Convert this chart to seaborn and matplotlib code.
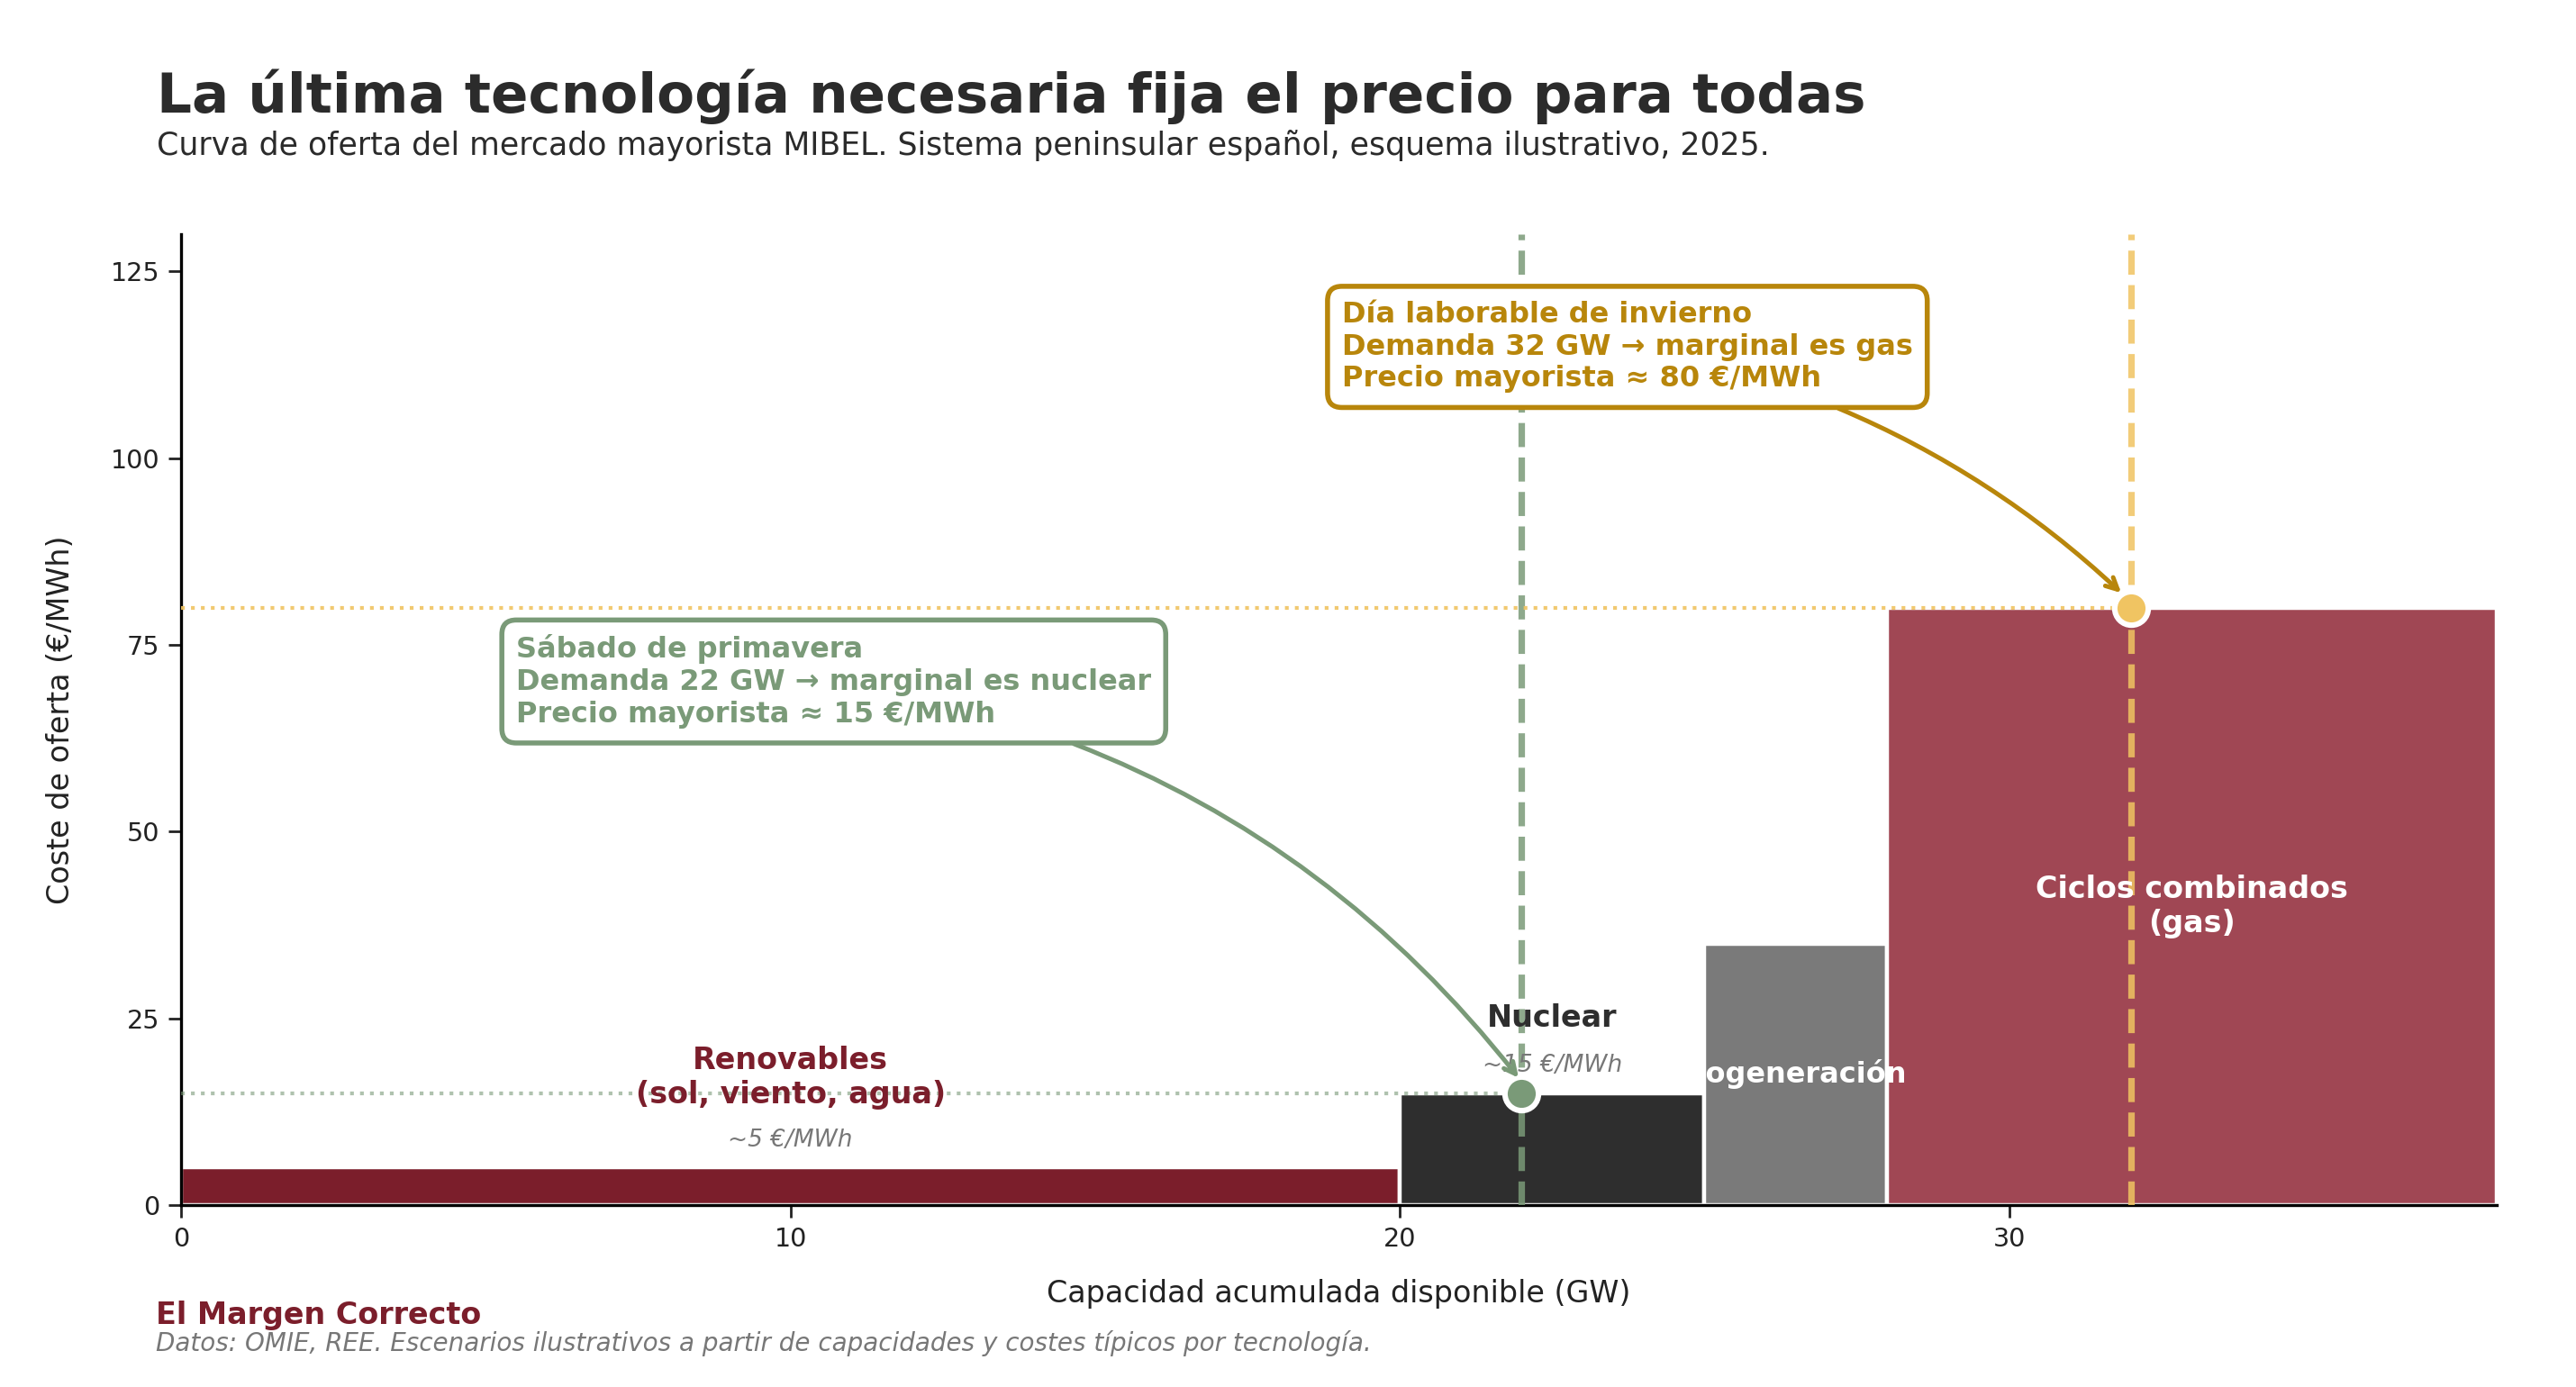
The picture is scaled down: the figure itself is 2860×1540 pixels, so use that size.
import matplotlib
matplotlib.use("Agg")
import matplotlib.pyplot as plt
import seaborn as sns
import numpy as np

# tecnologías en orden de mérito
tecnologias = ["Renovables", "Nuclear", "Cogeneración", "Ciclos combinados"]
capacidad_gw = [20, 5, 3, 10]
coste_eur_mwh = [5, 15, 35, 80]
colores = ["#7b1e2b", "#2e2e2e", "#7a7a7a", "#a04754"]

# escenarios de demanda
demanda_gw = [22, 32]
precio_marginal = [15, 80]
color_escenario = ["#7a9a78", "#f0c462"]
color_texto_escenario = ["#7a9a78", "#b8860b"]
alpha_guia = [0.6, 0.9]

y_ticks = [0, 25, 50, 75, 100, 125]


def set_style():
    sns.set_theme(style="white")
    sns.set_style("white", {"axes.edgecolor": "black"})
    plt.rcParams["font.family"] = ["DejaVu Sans"]


def main():
    set_style()
    fig = plt.figure(figsize=(14.3, 7.7), dpi=200)
    ax = fig.add_axes([0.0703, 0.1312, 0.8989, 0.7000])

    inicio = np.concatenate([[0], np.cumsum(capacidad_gw)[:-1]])
    ax.bar(inicio, coste_eur_mwh, width=capacidad_gw, align="edge",
           color=colores, edgecolor="white", linewidth=1.6, zorder=2)

    ax.set_xlim(0, sum(capacidad_gw))
    ax.set_ylim(0, 130)
    ax.set_yticks(y_ticks)
    ax.set_xticks([0, 10, 20, 30])
    ax.tick_params(axis="both", labelsize=10.3, colors="#222222", length=5,
                   width=1, bottom=True, left=True)
    for s in ["top", "right"]:
        ax.spines[s].set_visible(False)
    for s in ["left", "bottom"]:
        ax.spines[s].set_linewidth(1.2)
        ax.spines[s].set_color("black")

    ax.set_xlabel("Capacidad acumulada disponible (GW)", fontsize=12,
                  color="#222222", labelpad=11)
    ax.set_ylabel("Coste de oferta (€/MWh)", fontsize=12, color="#222222",
                  labelpad=14)

    # líneas de demanda y precio marginal
    for d, p, c, a in zip(demanda_gw, precio_marginal, color_escenario, alpha_guia):
        ax.axvline(d, color=c, lw=2.6, ls="--", alpha=0.85, zorder=3)
        ax.plot([0, d], [p, p], color=c, lw=1.5, ls=":", alpha=a, zorder=3)
        ax.scatter([d], [p], s=180, color=c, edgecolor="white",
                   linewidth=2.2, zorder=6)

    # etiquetas de las tecnologías
    ax.text(10, 17.1, "Renovables\n(sol, viento, agua)", ha="center",
            va="center", fontsize=12, fontweight="bold", color=colores[0],
            zorder=5)
    ax.text(10, 8.7, "~5 €/MWh", ha="center", va="center", fontsize=9.5,
            style="italic", color="#777777", zorder=5)
    ax.text(22.5, 25.0, "Nuclear", ha="center", va="center", fontsize=12,
            fontweight="bold", color="#2e2e2e", zorder=5)
    ax.text(22.5, 18.7, "~15 €/MWh", ha="center", va="center", fontsize=9.5,
            style="italic", color="#777777", zorder=5)
    ax.text(26.5, 17.5, "Cogeneración", ha="center", va="center",
            fontsize=11.5, fontweight="bold", color="white", zorder=5)
    ax.text(33, 40.0, "Ciclos combinados\n(gas)", ha="center", va="center",
            fontsize=12, fontweight="bold", color="white", zorder=5)

    # anotaciones de escenarios
    ax.annotate("Sábado de primavera\nDemanda 22 GW → marginal es nuclear\n"
                "Precio mayorista ≈ 15 €/MWh",
                xy=(demanda_gw[0], precio_marginal[0] + 1.5),
                xytext=(5.5, 70.1), ha="left", va="center", fontsize=11.5,
                fontweight="bold", color=color_texto_escenario[0],
                bbox=dict(boxstyle="round,pad=0.5", fc="white",
                          ec=color_texto_escenario[0], lw=2),
                arrowprops=dict(arrowstyle="->", color=color_texto_escenario[0],
                                lw=1.8, connectionstyle="arc3,rad=-0.2",
                                shrinkA=0, shrinkB=2),
                zorder=7)
    ax.annotate("Día laborable de invierno\nDemanda 32 GW → marginal es gas\n"
                "Precio mayorista ≈ 80 €/MWh",
                xy=(demanda_gw[1] - 0.1, precio_marginal[1] + 1.5),
                xytext=(19.05, 114.9), ha="left", va="center", fontsize=11.5,
                fontweight="bold", color=color_texto_escenario[1],
                bbox=dict(boxstyle="round,pad=0.5", fc="white",
                          ec=color_texto_escenario[1], lw=2),
                arrowprops=dict(arrowstyle="->", color=color_texto_escenario[1],
                                lw=1.8, connectionstyle="arc3,rad=-0.15",
                                shrinkA=0, shrinkB=2),
                zorder=7)

    # títulos y pie
    fig.text(0.061, 0.919, "La última tecnología necesaria fija el precio para todas",
             fontsize=22, fontweight="bold", color="#2b2b2b", va="baseline")
    fig.text(0.061, 0.888, "Curva de oferta del mercado mayorista MIBEL. "
             "Sistema peninsular español, esquema ilustrativo, 2025.",
             fontsize=12.5, color="#2b2b2b", va="baseline")
    fig.text(0.0605, 0.0455, "El Margen Correcto", fontsize=12,
             fontweight="bold", color="#7b1e2b", va="baseline")
    fig.text(0.0605, 0.026, "Datos: OMIE, REE. Escenarios ilustrativos a partir "
             "de capacidades y costes típicos por tecnología.", fontsize=10,
             style="italic", color="#777777", va="baseline")

    fig.savefig("out.png", dpi=200)


if __name__ == "__main__":
    main()
